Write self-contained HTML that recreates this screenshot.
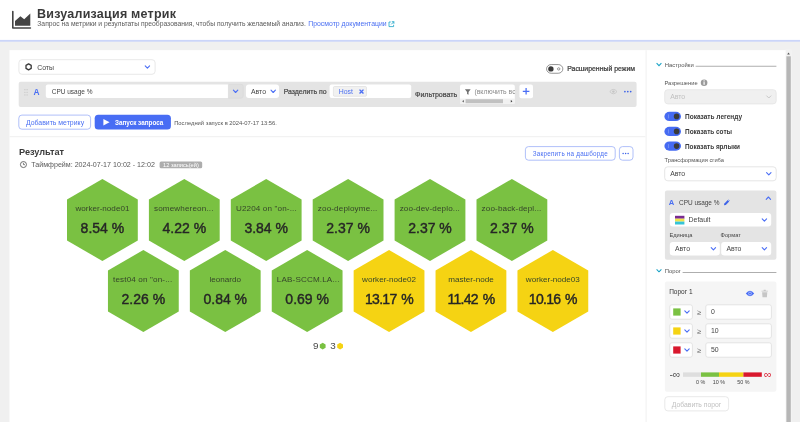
<!DOCTYPE html>
<html lang="ru">
<head>
<meta charset="utf-8">
<title>Визуализация метрик</title>
<style>
*{box-sizing:border-box;margin:0;padding:0}
html,body{width:800px;height:422px;overflow:hidden;background:#f0f0f0;font-family:"Liberation Sans",sans-serif;color:#333}
.a{position:absolute}
.t{position:absolute;white-space:nowrap;line-height:1;font-size:6.7px;color:#444;filter:blur(0.3px)}
.b{font-weight:bold}
.sb{-webkit-text-stroke:0.22px currentColor}
.blue{color:#4a6ff2}
.box{position:absolute;background:#fff;border:0.8px solid #dedede;border-radius:3.5px}
svg{position:absolute;overflow:visible}
.hexl{position:absolute;width:72px;text-align:center;white-space:nowrap;line-height:1;filter:blur(0.3px)}
.hn{font-size:8.1px;color:#35452a}
.hv{font-size:14px;color:#262626;-webkit-text-stroke:0.42px #262626}
</style>
</head>
<body>
<svg id="bg" style="left:0;top:0" width="800" height="422" viewBox="0 0 800 422">
<rect id="hdr" x="0.00" y="0.00" width="800.00" height="40.40" fill="#fff"/>
<rect x="0.00" y="39.90" width="800.00" height="1.80" fill="#cbd5f9"/>
<rect id="main" x="9.45" y="50.15" width="781.95" height="380.00" fill="#fff"/>
<rect x="645.40" y="50.15" width="1.50" height="380.00" fill="#f5f5f5"/>
<rect x="9.50" y="136.20" width="635.90" height="1.00" fill="#efefef"/>
<rect x="18.90" y="59.70" width="136.20" height="14.60" rx="3.10" fill="#fff" stroke="#e2e2e2" stroke-width="0.8"/>
<rect x="546.55" y="64.55" width="16.30" height="8.70" rx="4.65" fill="#fff" stroke="#6a6a6a" stroke-width="0.7"/>
<rect x="548.20" y="66.20" width="5.40" height="5.40" rx="2.70" fill="#3a3a3a"/>
<rect x="557.50" y="67.70" width="2.40" height="2.40" rx="1.20" fill="none" stroke="#555" stroke-width="0.6"/>
<rect x="18.70" y="81.80" width="617.90" height="25.30" rx="2.00" fill="#e4e4e4"/>
<path d="M47.80 84.60 H228.80 V98.00 H47.80 A2.0 2.0 0 0 1 45.80 96.00 V86.60 A2.0 2.0 0 0 1 47.80 84.60 Z" fill="#fff"/>
<path d="M228.40 84.40 H241.20 A2.0 2.0 0 0 1 243.20 86.40 V96.20 A2.0 2.0 0 0 1 241.20 98.20 H228.40 V84.40 Z" fill="#e0e0e0" stroke="#d6d6d6" stroke-width="0.5"/>
<rect x="245.90" y="84.60" width="33.20" height="13.40" rx="3.00" fill="#fff"/>
<rect x="329.60" y="84.60" width="81.60" height="13.40" rx="2.00" fill="#fff"/>
<rect x="333.40" y="86.50" width="33.10" height="9.80" rx="1.20" fill="#f1f1f1" stroke="#dadada" stroke-width="0.6"/>
<rect x="460.00" y="84.60" width="54.80" height="19.20" rx="2.00" fill="#fff"/>
<rect x="460.00" y="98.60" width="54.80" height="5.20" fill="#f1f1f1"/>
<rect x="465.60" y="99.20" width="37.40" height="4.00" fill="#c1c1c1"/>
<rect x="519.40" y="84.60" width="13.60" height="13.60" rx="2.00" fill="#fff"/>
<rect x="18.80" y="115.10" width="71.80" height="14.10" rx="3.10" fill="#fff" stroke="#9cb0f7" stroke-width="0.8"/>
<rect x="94.70" y="114.80" width="76.20" height="14.70" rx="3.50" fill="#486df4"/>
<rect x="159.60" y="161.40" width="42.60" height="6.80" rx="1.50" fill="#adadad"/>
<rect x="525.40" y="146.60" width="89.80" height="13.60" rx="3.10" fill="#fff" stroke="#9cb0f7" stroke-width="0.8"/>
<rect x="619.40" y="146.60" width="13.60" height="13.60" rx="3.10" fill="#fff" stroke="#9cb0f7" stroke-width="0.8"/>
<rect x="785.60" y="49.00" width="6.20" height="380.00" fill="#f2f2f2"/>
<rect x="786.40" y="56.30" width="4.40" height="370.00" fill="#b6b6b6"/>
<rect x="695.60" y="65.80" width="80.80" height="0.80" fill="#9a9a9a"/>
<rect x="664.70" y="89.70" width="111.50" height="14.20" rx="3.10" fill="#f0f0f0" stroke="#e4e4e4" stroke-width="0.8"/>
<rect x="664.40" y="111.80" width="16.60" height="9.20" rx="5.00" fill="#466bf2"/>
<rect x="673.80" y="113.60" width="5.60" height="5.60" rx="2.80" fill="#3a3a3a"/>
<rect x="668.40" y="114.40" width="0.60" height="4.00" fill="#8aa2f5"/>
<rect x="664.40" y="126.80" width="16.60" height="9.20" rx="5.00" fill="#466bf2"/>
<rect x="673.80" y="128.60" width="5.60" height="5.60" rx="2.80" fill="#3a3a3a"/>
<rect x="668.40" y="129.40" width="0.60" height="4.00" fill="#8aa2f5"/>
<rect x="664.40" y="141.50" width="16.60" height="9.20" rx="5.00" fill="#466bf2"/>
<rect x="673.80" y="143.30" width="5.60" height="5.60" rx="2.80" fill="#3a3a3a"/>
<rect x="668.40" y="144.10" width="0.60" height="4.00" fill="#8aa2f5"/>
<rect x="664.70" y="166.80" width="111.50" height="14.00" rx="3.10" fill="#fff" stroke="#dedede" stroke-width="0.8"/>
<rect x="664.90" y="190.40" width="111.50" height="69.40" rx="2.00" fill="#e4e4e4"/>
<rect x="669.80" y="213.00" width="101.40" height="13.60" rx="3.00" fill="#fff"/>
<rect x="675.00" y="215.80" width="9.40" height="2.90" fill="#7a2a90"/>
<rect x="675.00" y="218.70" width="9.40" height="2.90" fill="#efe34a"/>
<rect x="675.00" y="221.60" width="9.40" height="2.90" fill="#35c4d7"/>
<rect x="669.80" y="242.00" width="50.00" height="13.40" rx="3.00" fill="#fff"/>
<rect x="721.20" y="242.00" width="50.00" height="13.40" rx="3.00" fill="#fff"/>
<rect x="682.60" y="272.00" width="93.80" height="0.80" fill="#9a9a9a"/>
<rect x="664.90" y="281.60" width="111.50" height="110.20" rx="2.00" fill="#f5f5f5"/>
<rect x="669.80" y="304.80" width="22.60" height="14.40" rx="2.10" fill="#fff" stroke="#dedede" stroke-width="0.8"/>
<rect x="673.20" y="308.40" width="7.40" height="7.20" fill="#7ac142"/>
<rect x="705.80" y="304.80" width="65.60" height="14.40" rx="2.10" fill="#fff" stroke="#dedede" stroke-width="0.8"/>
<rect x="669.80" y="323.80" width="22.60" height="14.40" rx="2.10" fill="#fff" stroke="#dedede" stroke-width="0.8"/>
<rect x="673.20" y="327.40" width="7.40" height="7.20" fill="#f5d313"/>
<rect x="705.80" y="323.80" width="65.60" height="14.40" rx="2.10" fill="#fff" stroke="#dedede" stroke-width="0.8"/>
<rect x="669.80" y="342.80" width="22.60" height="14.40" rx="2.10" fill="#fff" stroke="#dedede" stroke-width="0.8"/>
<rect x="673.20" y="346.40" width="7.40" height="7.20" fill="#d9182d"/>
<rect x="705.80" y="342.80" width="65.60" height="14.40" rx="2.10" fill="#fff" stroke="#dedede" stroke-width="0.8"/>
<rect x="683.00" y="372.40" width="18.00" height="4.40" fill="#dedede"/>
<rect x="701.00" y="372.40" width="18.00" height="4.40" fill="#7ac142"/>
<rect x="719.00" y="372.40" width="24.40" height="4.40" fill="#f5d313"/>
<rect x="743.40" y="372.40" width="18.40" height="4.40" fill="#d9182d"/>
<rect x="664.80" y="396.70" width="63.80" height="14.20" rx="3.10" fill="#fff" stroke="#e2e2e2" stroke-width="0.8"/>
</svg>
<!-- header -->
<div class="t b" id="title" style="left:37px;top:7.8px;font-size:12.5px;letter-spacing:0.23px;color:#3a3a3a">Визуализация метрик</div>
<div class="t" id="sub" style="left:37.3px;top:20.9px;font-size:6.75px;color:#5a5a5a">Запрос на метрики и результаты преобразования, чтобы получить желаемый анализ.</div>
<div class="t blue" id="doc" style="left:308.3px;top:20.9px;font-size:6.87px">Просмотр документации</div>

<!-- main panel -->

<!-- type selector -->
<div class="t" style="left:37.2px;top:64.5px;font-size:6.9px">Соты</div>

<!-- advanced toggle -->
<div class="t sb" id="adv" style="left:567.2px;top:66.3px;font-size:6.9px;color:#3a3a3a">Расширенный режим</div>

<!-- query row -->
<div class="t b blue" style="left:33.6px;top:88.1px;font-size:8.4px">A</div>
<div class="t" style="left:51.7px;top:89.2px;font-size:6.5px">CPU usage %</div>
<div class="t" style="left:251px;top:88.9px;font-size:6.9px">Авто</div>
<div class="t sb" id="split" style="left:283.7px;top:88.9px;font-size:6.92px;color:#4a4a4a">Разделить по</div>
<div class="t blue" style="left:338.8px;top:88.9px;font-size:6.9px">Host</div>
<div class="t sb" id="filt" style="left:415.0px;top:92.1px;font-size:7.1px;color:#4a4a4a">Фильтровать</div>
<div id="fclip" style="position:absolute;left:460px;top:84px;width:54.8px;height:14px;overflow:hidden"><div class="t" style="left:14.4px;top:4.9px;font-size:6.9px;color:#8a8a8a">(включить все)</div></div>

<!-- buttons -->
<div class="t blue" id="addm" style="left:26px;top:119.9px;font-size:6.9px">Добавить метрику</div>
<div class="t b" id="run" style="left:115.0px;top:119.9px;font-size:6.34px;color:#fff">Запуск запроса</div>
<div class="t" id="last" style="left:174.2px;top:120.9px;font-size:5.82px;color:#555">Последний запуск в 2024-07-17 13:56.</div>

<!-- result header -->
<div class="t b" id="res" style="left:19.0px;top:148px;font-size:9.16px;color:#3a3a3a">Результат</div>
<div class="t" id="tf" style="left:31.25px;top:161.9px;font-size:7.12px;color:#5a5a5a">Таймфрейм: 2024-07-17 10:02 - 12:02</div>
<div class="t" id="badge" style="left:163.0px;top:162.6px;font-size:5.68px;color:#fff">12 запись(ей)</div>
<div class="t blue" id="pin" style="left:532.75px;top:150.9px;font-size:6.3px;letter-spacing:0.22px">Закрепить на дашборде</div>

<!-- hexagons -->
<svg id="hexes" style="left:0;top:0" width="800" height="422" viewBox="0 0 800 422">
  <g fill="#7ac142"><polygon points="102.40,179.00 137.80,199.50 137.80,240.50 102.40,261.00 67.00,240.50 67.00,199.50"/><polygon points="184.30,179.00 219.70,199.50 219.70,240.50 184.30,261.00 148.90,240.50 148.90,199.50"/><polygon points="266.20,179.00 301.60,199.50 301.60,240.50 266.20,261.00 230.80,240.50 230.80,199.50"/><polygon points="348.10,179.00 383.50,199.50 383.50,240.50 348.10,261.00 312.70,240.50 312.70,199.50"/><polygon points="430.00,179.00 465.40,199.50 465.40,240.50 430.00,261.00 394.60,240.50 394.60,199.50"/><polygon points="511.90,179.00 547.30,199.50 547.30,240.50 511.90,261.00 476.50,240.50 476.50,199.50"/><polygon points="143.35,250.00 178.75,270.50 178.75,311.50 143.35,332.00 107.95,311.50 107.95,270.50"/><polygon points="225.25,250.00 260.65,270.50 260.65,311.50 225.25,332.00 189.85,311.50 189.85,270.50"/><polygon points="307.15,250.00 342.55,270.50 342.55,311.50 307.15,332.00 271.75,311.50 271.75,270.50"/></g>
  <g fill="#f5d313"><polygon points="389.05,250.00 424.45,270.50 424.45,311.50 389.05,332.00 353.65,311.50 353.65,270.50"/><polygon points="470.95,250.00 506.35,270.50 506.35,311.50 470.95,332.00 435.55,311.50 435.55,270.50"/><polygon points="552.85,250.00 588.25,270.50 588.25,311.50 552.85,332.00 517.45,311.50 517.45,270.50"/></g>
</svg>
<div class="hexl hn" style="left:66.40px;top:205.00px">worker-node01</div><div class="hexl hv" style="left:66.40px;top:220.80px">8.54 %</div>
<div class="hexl hn" style="left:154.00px;top:205.00px;text-align:left;letter-spacing:0.14px">somewhereon...</div><div class="hexl hv" style="left:148.30px;top:220.80px">4.22 %</div>
<div class="hexl hn" style="left:235.90px;top:205.00px;text-align:left;letter-spacing:0.14px">U2204 on &quot;on-...</div><div class="hexl hv" style="left:230.20px;top:220.80px">3.84 %</div>
<div class="hexl hn" style="left:317.80px;top:205.00px;text-align:left;letter-spacing:0.14px">zoo-deployme...</div><div class="hexl hv" style="left:312.10px;top:220.80px">2.37 %</div>
<div class="hexl hn" style="left:399.70px;top:205.00px;text-align:left;letter-spacing:0.14px">zoo-dev-deplo...</div><div class="hexl hv" style="left:394.00px;top:220.80px">2.37 %</div>
<div class="hexl hn" style="left:481.60px;top:205.00px;text-align:left;letter-spacing:0.14px">zoo-back-depl...</div><div class="hexl hv" style="left:475.90px;top:220.80px">2.37 %</div>
<div class="hexl hn" style="left:113.05px;top:276.00px;text-align:left;letter-spacing:0.14px">test04 on &quot;on-...</div><div class="hexl hv" style="left:107.35px;top:291.80px">2.26 %</div>
<div class="hexl hn" style="left:189.25px;top:276.00px">leonardo</div><div class="hexl hv" style="left:189.25px;top:291.80px">0.84 %</div>
<div class="hexl hn" style="left:276.85px;top:276.00px;text-align:left;letter-spacing:0.14px">LAB-SCCM.LA...</div><div class="hexl hv" style="left:271.15px;top:291.80px">0.69 %</div>
<div class="hexl hn" style="left:353.05px;top:276.00px">worker-node02</div><div class="hexl hv" style="left:353.05px;top:291.80px;letter-spacing:-0.7px;word-spacing:1.6px">13.17 %</div>
<div class="hexl hn" style="left:434.95px;top:276.00px">master-node</div><div class="hexl hv" style="left:434.95px;top:291.80px;letter-spacing:-0.7px;word-spacing:1.6px">11.42 %</div>
<div class="hexl hn" style="left:516.85px;top:276.00px">worker-node03</div><div class="hexl hv" style="left:516.85px;top:291.80px;letter-spacing:-0.7px;word-spacing:1.6px">10.16 %</div>
<!-- legend -->
<div class="t" style="left:313.1px;top:341.2px;font-size:9.9px;color:#4a4a4a">9</div>
<div class="t" style="left:330.3px;top:341.2px;font-size:9.9px;color:#4a4a4a">3</div>

<!-- side panel -->

<div class="t" id="s1" style="left:664.8px;top:62.5px;font-size:5.9px;color:#555">Настройки</div>

<div class="t" id="s2" style="left:664.4px;top:81.3px;font-size:5.76px;color:#555">Разрешение</div>
<div class="t" style="left:670.2px;top:94.1px;font-size:6.9px;color:#c0c0c0">Авто</div>

<!-- toggles -->
<div class="t b" id="g1" style="left:685.0px;top:113.7px;font-size:6.5px;color:#3a3a3a">Показать легенду</div>
<div class="t b" id="g2" style="left:685.0px;top:129.1px;font-size:6.44px;color:#3a3a3a">Показать соты</div>
<div class="t b" id="g3" style="left:685.0px;top:143.5px;font-size:6.41px;color:#3a3a3a">Показать ярлыки</div>

<div class="t" id="s3" style="left:664.6px;top:158.1px;font-size:5.73px;color:#555">Трансформация сгиба</div>
<div class="t" style="left:670.2px;top:171.1px;font-size:6.9px">Авто</div>

<!-- metric card -->
<div class="t b blue" style="left:668.8px;top:199.3px;font-size:7.6px">A</div>
<div class="t" id="c1" style="left:679.0px;top:199.5px;font-size:6.44px">CPU usage %</div>
<div class="t" style="left:688.6px;top:217.3px;font-size:6.9px">Default</div>
<div class="t" id="c2" style="left:669.4px;top:232.9px;font-size:5.7px;color:#444">Единица</div>
<div class="t" id="c3" style="left:720.6px;top:232.9px;font-size:5.7px;color:#444">Формат</div>
<div class="t" style="left:675px;top:246.1px;font-size:6.9px">Авто</div>
<div class="t" style="left:726.4px;top:246.1px;font-size:6.9px">Авто</div>

<!-- threshold section -->
<div class="t" id="s4" style="left:664.8px;top:268.7px;font-size:5.9px;color:#555">Порог</div>
<div class="t" id="p1" style="left:669.2px;top:288.9px;font-size:6.53px;color:#333">Порог 1</div>

<div class="t" style="left:697.1px;top:308.9px;font-size:7.4px;color:#707070">≥</div>
<div class="t" style="left:711px;top:309.3px;font-size:6.9px">0</div>

<div class="t" style="left:697.1px;top:327.9px;font-size:7.4px;color:#707070">≥</div>
<div class="t" style="left:711px;top:328.3px;font-size:6.9px">10</div>

<div class="t" style="left:697.1px;top:346.9px;font-size:7.4px;color:#707070">≥</div>
<div class="t" style="left:711px;top:347.3px;font-size:6.9px">50</div>

<!-- scale -->
<div class="t" id="ninf" style="left:669.4px;top:369.6px;font-size:10.4px;color:#555">-∞</div>
<div class="t" id="pinf" style="left:764.1px;top:369.6px;font-size:10.4px;color:#d9182d">∞</div>
<div class="t" style="left:690.7px;top:380.1px;width:20px;text-align:center;font-size:5.4px;color:#444">0 %</div>
<div class="t" style="left:709px;top:380.1px;width:20px;text-align:center;font-size:5.4px;color:#444">10 %</div>
<div class="t" style="left:733.4px;top:380.1px;width:20px;text-align:center;font-size:5.4px;color:#444">50 %</div>

<div class="t" id="addp" style="left:671.8px;top:401.5px;font-size:6.8px;color:#c0c0c0">Добавить порог</div>
<svg id="icons" style="left:0;top:0" width="800" height="422" viewBox="0 0 800 422">
<svg x="12" y="10.6" width="19" height="19" viewBox="0 0 19 19" overflow="visible">
  <path d="M0.8 1 V17.4 H18.4" fill="none" stroke="#444" stroke-width="1.6" stroke-linejoin="round" stroke-linecap="round"/>
  <path d="M3 15.2 V10.4 L8.4 5.6 L12.2 8.6 L18.3 3 V15.2 Z" fill="#444"/>
</svg>
<svg x="388.4" y="21.2" width="6" height="6" viewBox="0 0 6 6" overflow="visible"><path d="M2.4 0.8 H0.6 V5.4 H5.2 V3.6 M3.4 0.5 H5.5 V2.6 M5.5 0.5 L2.8 3.2" fill="none" stroke="#1ba3c6" stroke-width="0.8"/></svg>
<svg x="25.1" y="63.4" width="7" height="7" viewBox="0 0 7 7" overflow="visible"><path d="M3.5 0.5 L6.1 2 V5 L3.5 6.5 L0.9 5 V2 Z" fill="none" stroke="#383838" stroke-width="1.3" stroke-linejoin="round"/></svg>
<svg x="144.4" y="65.2" width="6" height="4" viewBox="0 0 6 4" overflow="visible"><path d="M0.8 0.6 L3 2.9 L5.2 0.6" fill="none" stroke="#4a6ef5" stroke-width="1.1" stroke-linecap="round" stroke-linejoin="round"/></svg>
<svg x="24.1" y="88.9" width="4" height="7" viewBox="0 0 4 7" overflow="visible"><g fill="#c4c4c4"><circle cx="0.8" cy="0.8" r="0.6"/><circle cx="3" cy="0.8" r="0.6"/><circle cx="0.8" cy="3.4" r="0.6"/><circle cx="3" cy="3.4" r="0.6"/><circle cx="0.8" cy="6" r="0.6"/><circle cx="3" cy="6" r="0.6"/></g></svg>
<svg x="232.6" y="89.6" width="6" height="4" viewBox="0 0 6 4" overflow="visible"><path d="M0.8 0.6 L3 2.9 L5.2 0.6" fill="none" stroke="#4a6ef5" stroke-width="1.1" stroke-linecap="round" stroke-linejoin="round"/></svg>
<svg x="270.2" y="89.6" width="6" height="4" viewBox="0 0 6 4" overflow="visible"><path d="M0.8 0.6 L3 2.9 L5.2 0.6" fill="none" stroke="#4a6ef5" stroke-width="1.1" stroke-linecap="round" stroke-linejoin="round"/></svg>
<svg x="358.9" y="89" width="5.2" height="5.2" viewBox="0 0 5 5" overflow="visible"><path d="M0.6 0.6 L4.4 4.4 M4.4 0.6 L0.6 4.4" fill="none" stroke="#4a6ef5" stroke-width="1.35"/></svg>
<svg x="461.6" y="99.8" width="3" height="3" viewBox="0 0 3 3" overflow="visible"><path d="M2.2 0.2 L0.6 1.5 L2.2 2.8 Z" fill="#555"/></svg>
<svg x="510" y="99.8" width="3" height="3" viewBox="0 0 3 3" overflow="visible"><path d="M0.8 0.2 L2.4 1.5 L0.8 2.8 Z" fill="#333"/></svg>
<svg x="464.6" y="88.8" width="6.4" height="6.4" viewBox="0 0 6 6" overflow="visible"><path d="M0.3 0.5 H5.7 L3.7 3 V5.6 L2.3 4.8 V3 Z" fill="#707070"/></svg>
<svg x="522.6" y="87.8" width="7" height="7" viewBox="0 0 7 7" overflow="visible"><path d="M3.5 0.2 V6.8 M0.2 3.5 H6.8" fill="none" stroke="#4a6ef5" stroke-width="1.25"/></svg>
<svg x="609.4" y="88.9" width="8" height="5.4" viewBox="0 0 8 5.4" overflow="visible"><path d="M0.4 2.7 Q4 -1.7 7.6 2.7 Q4 7.1 0.4 2.7 Z" fill="none" stroke="#c4c4c4" stroke-width="0.8"/><circle cx="4" cy="2.7" r="1.2" fill="#c4c4c4"/></svg>
<svg x="623.8" y="90.6" width="8" height="2" viewBox="0 0 8 2" overflow="visible"><g fill="#3d63e8"><circle cx="1.1" cy="1" r="0.85"/><circle cx="4" cy="1" r="0.85"/><circle cx="6.9" cy="1" r="0.85"/></g></svg>
<svg x="102.9" y="118.8" width="6.9" height="6.9" viewBox="0 0 6 6" overflow="visible"><path d="M0.4 0.2 L5.8 3 L0.4 5.8 Z" fill="#fff"/></svg>
<svg x="19.8" y="160.9" width="7.3" height="7.3" viewBox="0 0 7 7" overflow="visible"><circle cx="3.5" cy="3.5" r="2.9" fill="none" stroke="#555" stroke-width="0.8"/><path d="M3.5 1.8 V3.6 H5" fill="none" stroke="#555" stroke-width="0.7"/></svg>
<svg x="622.1" y="152.6" width="7" height="2" viewBox="0 0 7 2" overflow="visible"><g fill="#3d63e8"><circle cx="1" cy="1" r="0.75"/><circle cx="3.5" cy="1" r="0.75"/><circle cx="6" cy="1" r="0.75"/></g></svg>
<svg x="319.7" y="342.8" width="6" height="6.6" viewBox="0 0 6 6.6" overflow="visible"><path d="M3 0 L5.9 1.65 V4.95 L3 6.6 L0.1 4.95 V1.65 Z" fill="#7ac142"/></svg>
<svg x="337.1" y="342.8" width="6" height="6.6" viewBox="0 0 6 6.6" overflow="visible"><path d="M3 0 L5.9 1.65 V4.95 L3 6.6 L0.1 4.95 V1.65 Z" fill="#f5d313"/></svg>
<svg x="787.0" y="52.2" width="3" height="3" viewBox="0 0 3 3" overflow="visible"><path d="M1.5 0.4 L2.8 2.4 H0.2 Z" fill="#555"/></svg>
<svg x="656" y="62.6" width="6" height="4" viewBox="0 0 6 4" overflow="visible"><path d="M0.6 0.6 L3 3 L5.4 0.6" fill="none" stroke="#1ba3c6" stroke-width="1.1"/></svg>
<svg x="700.6" y="79.2" width="7" height="7" viewBox="0 0 7 7" overflow="visible"><circle cx="3.5" cy="3.5" r="3.3" fill="#9a9a9a"/><rect x="2.9" y="2.9" width="1.2" height="2.7" fill="#fff"/><circle cx="3.5" cy="1.7" r="0.7" fill="#fff"/></svg>
<svg x="765.8" y="95" width="6" height="4" viewBox="0 0 6 4" overflow="visible"><path d="M0.6 0.6 L3 3 L5.4 0.6" fill="none" stroke="#c4c4c4" stroke-width="0.9"/></svg>
<svg x="765.8" y="172" width="6" height="4" viewBox="0 0 6 4" overflow="visible"><path d="M0.8 0.6 L3 2.9 L5.2 0.6" fill="none" stroke="#4a6ef5" stroke-width="1.1" stroke-linecap="round" stroke-linejoin="round"/></svg>
<svg x="723.7" y="199.4" width="6.2" height="6.2" viewBox="0 0 7 7" overflow="visible"><path d="M0.3 6.7 L0.8 4.6 L4.6 0.8 L6.2 2.4 L2.4 6.2 Z" fill="#3d63e8"/><path d="M5.1 0.4 L5.5 0 L7 1.5 L6.6 1.9 Z" fill="#3d63e8"/></svg>
<svg x="765.4" y="195.9" width="6" height="4" viewBox="0 0 6 4" overflow="visible"><path d="M0.8 3.4 L3 1.1 L5.2 3.4" fill="none" stroke="#4a6ef5" stroke-width="1.1" stroke-linecap="round" stroke-linejoin="round"/></svg>
<svg x="761.4" y="218.2" width="6" height="4" viewBox="0 0 6 4" overflow="visible"><path d="M0.8 0.6 L3 2.9 L5.2 0.6" fill="none" stroke="#4a6ef5" stroke-width="1.1" stroke-linecap="round" stroke-linejoin="round"/></svg>
<svg x="710.4" y="247" width="6" height="4" viewBox="0 0 6 4" overflow="visible"><path d="M0.8 0.6 L3 2.9 L5.2 0.6" fill="none" stroke="#4a6ef5" stroke-width="1.1" stroke-linecap="round" stroke-linejoin="round"/></svg>
<svg x="761.4" y="247" width="6" height="4" viewBox="0 0 6 4" overflow="visible"><path d="M0.8 0.6 L3 2.9 L5.2 0.6" fill="none" stroke="#4a6ef5" stroke-width="1.1" stroke-linecap="round" stroke-linejoin="round"/></svg>
<svg x="656" y="268.8" width="6" height="4" viewBox="0 0 6 4" overflow="visible"><path d="M0.6 0.6 L3 3 L5.4 0.6" fill="none" stroke="#1ba3c6" stroke-width="1.1"/></svg>
<svg x="745.6" y="290.3" width="8.8" height="6.4" viewBox="0 0 9 6.4" overflow="visible"><path d="M0.2 3.2 Q4.5 -2.2 8.8 3.2 Q4.5 8.6 0.2 3.2 Z" fill="#4a6ef5"/><circle cx="4.5" cy="3.2" r="1.45" fill="none" stroke="#dfe6fd" stroke-width="0.6"/></svg>
<svg x="761.2" y="289.4" width="7" height="8" viewBox="0 0 7 8" overflow="visible"><path d="M0.3 1.4 H6.7 V2.2 H0.3 Z M2.4 0.4 H4.6 V1.4 H2.4 Z M0.9 2.8 H6.1 L5.7 7.8 H1.3 Z" fill="#c6c6c6"/></svg>
<svg x="684" y="310.2" width="6" height="4" viewBox="0 0 6 4" overflow="visible"><path d="M0.8 0.6 L3 2.9 L5.2 0.6" fill="none" stroke="#4a6ef5" stroke-width="1.1" stroke-linecap="round" stroke-linejoin="round"/></svg>
<svg x="684" y="329.2" width="6" height="4" viewBox="0 0 6 4" overflow="visible"><path d="M0.8 0.6 L3 2.9 L5.2 0.6" fill="none" stroke="#4a6ef5" stroke-width="1.1" stroke-linecap="round" stroke-linejoin="round"/></svg>
<svg x="684" y="348.2" width="6" height="4" viewBox="0 0 6 4" overflow="visible"><path d="M0.8 0.6 L3 2.9 L5.2 0.6" fill="none" stroke="#4a6ef5" stroke-width="1.1" stroke-linecap="round" stroke-linejoin="round"/></svg>
</svg>
</body>
</html>
